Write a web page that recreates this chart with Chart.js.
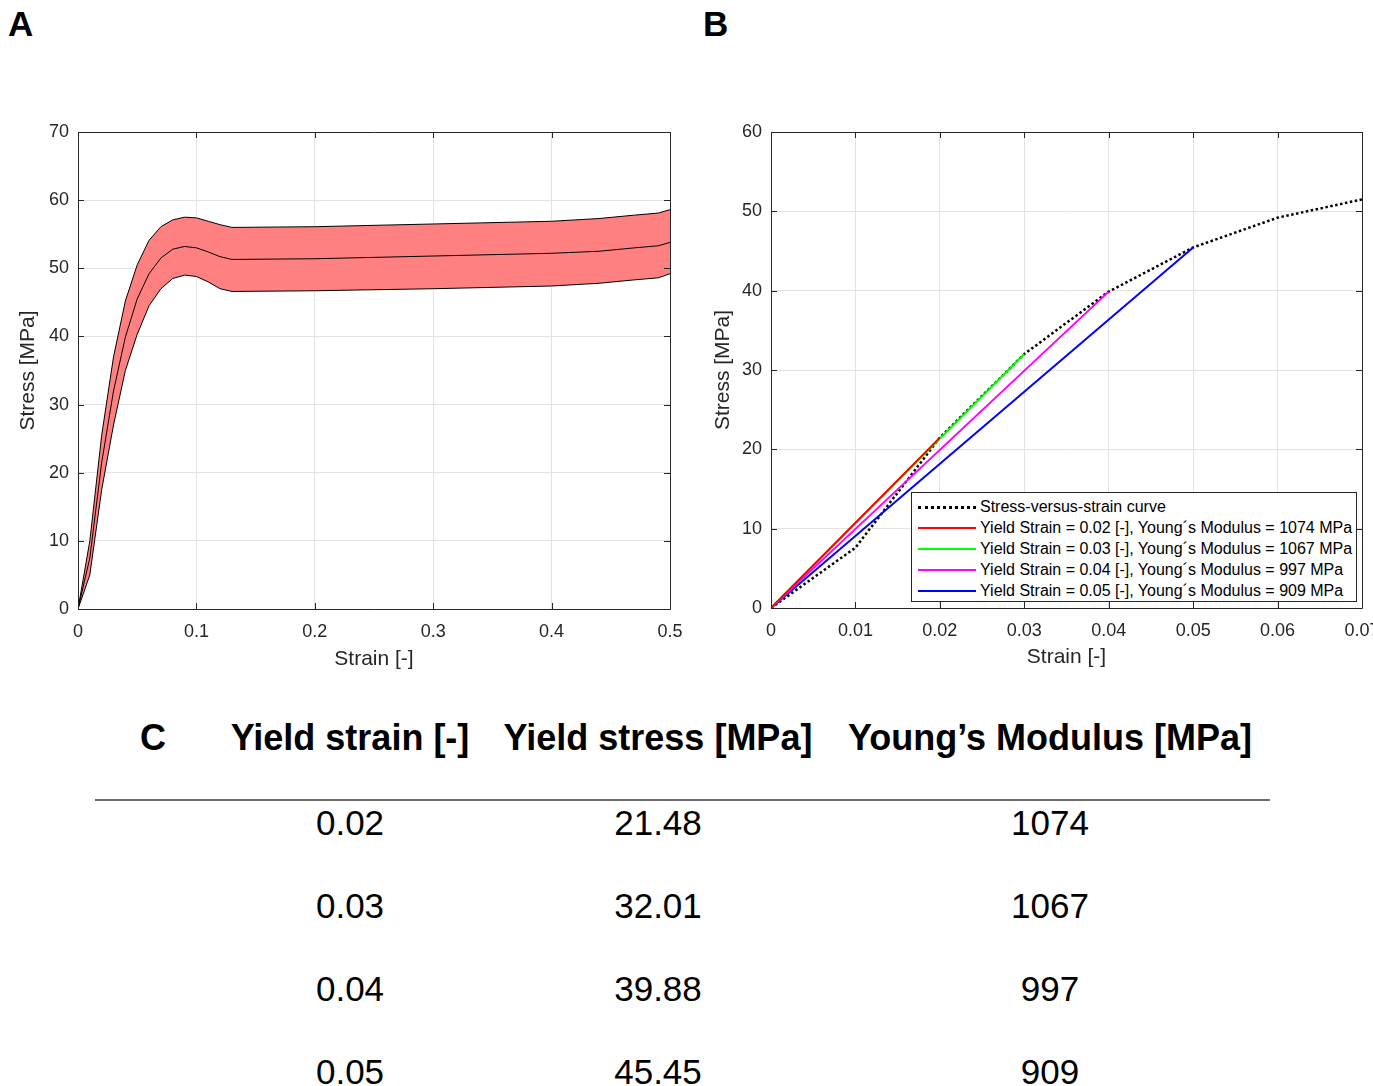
<!DOCTYPE html>
<html>
<head>
<meta charset="utf-8">
<script src="https://cdn.jsdelivr.net/npm/chart.js@4.4.1/dist/chart.umd.min.js"></script>
<style>
  body { margin: 0; width: 1373px; height: 1086px; overflow: hidden; background: #fff; position: relative;
         font-family: "Liberation Sans", Arial, sans-serif; color: #000; }
  .panel { position: absolute; top: 0; height: 690px; }
  #boxA { left: 0; width: 700px; }
  #boxB { left: 700px; width: 673px; }
  .tag { position: absolute; font-weight: bold; font-size: 35px; line-height: 1; }
  #legendB { position: absolute; left: 911px; top: 492px; width: 446px; height: 110px; border: 1px solid #262626;
             background: #fff; font-size: 16px; line-height: 21px; padding-top: 3px; box-sizing: border-box; }
  #legendB .row { position: relative; height: 21px; white-space: nowrap; color: #000; }
  #legendB .sample { position: absolute; left: 6px; top: 10px; width: 58px; height: 0; }
  #legendB .txt { position: absolute; left: 68px; top: 0; }
  .cell { position: absolute; line-height: 1; white-space: nowrap; transform: translateX(-50%); }
  .head { font-weight: bold; font-size: 36px; }
  .val { font-size: 35px; }
  #rule { position: absolute; left: 95px; top: 799px; width: 1175px; height: 0; border-top: 2px solid #6e6e6e; }
</style>
</head>
<body>
<div class="tag" style="left:8px;top:6px">A</div>
<div class="tag" style="left:703px;top:6px">B</div>
<div class="panel" id="boxA"><canvas id="chartA"></canvas></div>
<div class="panel" id="boxB"><canvas id="chartB"></canvas></div>
<div id="legendB"></div>
<div id="table"></div>
<div id="rule"></div>
<script>
// A: mittlere Spannung mit Streuband
var strainA = [0, 0.01, 0.02, 0.03, 0.04, 0.05, 0.06, 0.07, 0.08, 0.09, 0.1, 0.11, 0.12, 0.13, 0.2, 0.3, 0.4, 0.44, 0.47, 0.49, 0.5];
var meanA   = [0, 7.5, 21.5, 32, 39.9, 45.5, 49.2, 51.5, 52.8, 53.2, 53.0, 52.4, 51.7, 51.3, 51.4, 51.8, 52.2, 52.5, 53.0, 53.3, 53.8];
var upperA  = [0, 10, 25.5, 37, 45.2, 50.5, 54.1, 56.1, 57.1, 57.5, 57.4, 56.9, 56.4, 56.0, 56.1, 56.5, 56.9, 57.3, 57.8, 58.1, 58.6];
var lowerA  = [0, 5, 17.5, 27, 35, 40.3, 44.5, 47.0, 48.5, 49.0, 48.8, 48.0, 47.0, 46.6, 46.7, 47.0, 47.4, 47.8, 48.3, 48.6, 49.2];

// B: Spannungs-Dehnungs-Kurve im elastischen Bereich
var strainB = [0, 0.01, 0.02, 0.03, 0.04, 0.05, 0.06, 0.07];
var stressB = [0, 7.6, 21.48, 32.01, 39.88, 45.45, 49.2, 51.5];

// C / Sekantenlinien
var yieldStrain  = [0.02, 0.03, 0.04, 0.05];
var yieldStress  = [21.48, 32.01, 39.88, 45.45];
var youngModulus = [1074, 1067, 997, 909];
var lineColors   = ['#ff0000', '#00ff00', '#ff00ff', '#0000ff'];

var headers = ['Yield strain [-]', 'Yield stress [MPa]', 'Young\u2019s Modulus [MPa]'];

Chart.defaults.font.family = '"Liberation Sans", Arial, sans-serif';
Chart.defaults.color = '#262626';
Chart.defaults.animation = false;

function pts(xs, ys) {
  return xs.map(function (x, i) { return {x: x, y: ys[i]}; });
}

// Rahmen mit Ticks nach innen (wie MATLAB)
var framePlugin = {
  id: 'frame',
  afterDatasetsDraw: function (chart) {
    var ctx = chart.ctx, a = chart.chartArea;
    var xs = chart.scales.x, ys = chart.scales.y;
    var tl = 6;
    ctx.save();
    ctx.strokeStyle = '#262626';
    ctx.lineWidth = 1;
    ctx.beginPath();
    ctx.rect(Math.round(a.left) + 0.5, Math.round(a.top) + 0.5, Math.round(a.right - a.left), Math.round(a.bottom - a.top));
    xs.ticks.forEach(function (t) {
      var px = Math.round(xs.getPixelForValue(t.value)) + 0.5;
      ctx.moveTo(px, a.bottom); ctx.lineTo(px, a.bottom - tl);
      ctx.moveTo(px, a.top); ctx.lineTo(px, a.top + tl);
    });
    ys.ticks.forEach(function (t) {
      var py = Math.round(ys.getPixelForValue(t.value)) + 0.5;
      ctx.moveTo(a.left, py); ctx.lineTo(a.left + tl, py);
      ctx.moveTo(a.right, py); ctx.lineTo(a.right - tl, py);
    });
    ctx.stroke();
    ctx.restore();
  }
};

function axes(xmax, xstep, ymax, yTitlePad, xTitlePad, yWidth) {
  return {
    x: {
      type: 'linear', min: 0, max: xmax,
      grid: { color: '#e3e3e3', drawTicks: false },
      border: { display: false },
      ticks: { stepSize: xstep, padding: 12, font: { size: 18 }, color: '#262626',
               callback: function (v) { return String(+v.toFixed(2)); } },
      title: { display: true, text: 'Strain [-]', font: { size: 21 }, color: '#262626', padding: { bottom: xTitlePad } },
      afterFit: function (s) { s.height = 70; s.paddingRight = 0; s.paddingLeft = 0; }
    },
    y: {
      min: 0, max: ymax,
      grid: { color: '#e3e3e3', drawTicks: false },
      border: { display: false },
      ticks: { stepSize: 10, padding: 9, font: { size: 18 }, color: '#262626' },
      title: { display: true, text: 'Stress [MPa]', font: { size: 21 }, color: '#262626', padding: { top: yTitlePad } },
      afterFit: function (s) { s.width = yWidth; }
    }
  };
}

new Chart(document.getElementById('chartA'), {
  type: 'line',
  data: {
    datasets: [{
      data: pts(strainA, upperA),
      borderColor: '#000', borderWidth: 1, pointRadius: 0,
      backgroundColor: '#ff8080', fill: '+2'
    }, {
      data: pts(strainA, meanA),
      borderColor: '#000', borderWidth: 1, pointRadius: 0, fill: false
    }, {
      data: pts(strainA, lowerA),
      borderColor: '#000', borderWidth: 1, pointRadius: 0, fill: false
    }]
  },
  options: {
    responsive: true, maintainAspectRatio: false,
    layout: { padding: { top: 132, right: 30, bottom: 11, left: 0 } },
    scales: axes(0.5, 0.1, 70, 16, 7, 78),
    plugins: { legend: { display: false }, tooltip: { enabled: false }, filler: { drawTime: 'beforeDatasetsDraw' } },
    events: []
  },
  plugins: [framePlugin]
});

var dsB = [{
  label: 'Stress-versus-strain curve',
  data: pts(strainB, stressB),
  borderColor: '#000', borderWidth: 2.5, borderDash: [2.5, 2.5], pointRadius: 0, fill: false, order: 5
}];
yieldStrain.forEach(function (e, i) {
  dsB.push({
    label: 'Yield Strain = ' + e.toFixed(2) + ' [-], Young\u00b4s Modulus = ' + youngModulus[i] + ' MPa',
    data: [{x: 0, y: 0}, {x: e, y: yieldStress[i]}],
    borderColor: lineColors[i], borderWidth: 2, pointRadius: 0, fill: false,
    order: i + 1
  });
});

new Chart(document.getElementById('chartB'), {
  type: 'line',
  data: { datasets: dsB },
  options: {
    responsive: true, maintainAspectRatio: false,
    layout: { padding: { top: 132, right: 11, bottom: 12, left: 0 } },
    scales: axes(0.07, 0.01, 60, 11, 8, 71),
    plugins: { legend: { display: false }, tooltip: { enabled: false } },
    events: []
  },
  plugins: [framePlugin]
});

// Legende B (als HTML)
var leg = document.getElementById('legendB');
dsB.forEach(function (d, i) {
  var row = document.createElement('div');
  row.className = 'row';
  var line = i === 0 ? '3px dotted #000' : '2px solid ' + d.borderColor;
  row.innerHTML = '<span class="sample" style="border-top:' + line + '"></span><span class="txt">' + d.label + '</span>';
  leg.appendChild(row);
});

// Tabelle C
var tbl = document.getElementById('table');
var colX = [350, 658, 1050];
function cell(txt, x, y, cls) {
  var d = document.createElement('div');
  d.className = 'cell ' + cls;
  d.style.left = x + 'px';
  d.style.top = y + 'px';
  d.textContent = txt;
  tbl.appendChild(d);
  return d;
}
cell('C', 153, 720, 'head');
headers.forEach(function (h, i) { cell(h, colX[i], 720, 'head'); });
yieldStrain.forEach(function (e, r) {
  var y = 805 + r * 83;
  cell(e.toFixed(2), colX[0], y, 'val');
  cell(yieldStress[r].toFixed(2), colX[1], y, 'val');
  cell(String(youngModulus[r]), colX[2], y, 'val');
});
</script>
</body>
</html>
